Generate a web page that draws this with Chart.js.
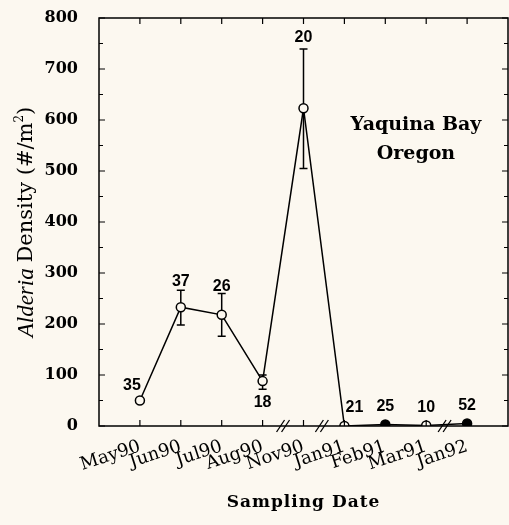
<!DOCTYPE html>
<html>
<head>
<meta charset="utf-8">
<script src="https://cdn.jsdelivr.net/npm/chart.js@4.4.1/dist/chart.umd.min.js"></script>
<style>
html,body{margin:0;padding:0;background:#fcf8f0;overflow:hidden}
#wrap{width:509px;height:525px}
canvas{display:block}
</style>
</head>
<body>
<div id="wrap"><canvas id="c"></canvas></div>
<script>
// sampling dates and mean density
const dates=['May90','Jun90','Jul90','Aug90','Nov90','Jan91','Feb91','Mar91','Jan92']
const density=[50,233,218,88,623,0,3,1,5]
const errUp=[54,266,260,100,739,null,null,null,null]
const errLo=[46,198,176,72,505,null,null,null,null]
const sampleN=[35,37,26,18,20,21,25,10,52]
const filled=[false,false,false,false,false,false,true,false,true]
const breaks=[3.5,4.45,7.45]
const yTicks=[0,100,200,300,400,500,600,700,800]
const site=['Yaquina Bay','Oregon']

const bg='#fcf8f0'
const serif='"DejaVu Serif", serif'

// where each n label sits relative to its point / error bar
const labelPos=[[-8,-15,'pt'],[0,-9,'up'],[0,-7,'up'],[0,21,'pt'],[0,-12,'up'],[10,-18,'pt'],[0,-18,'pt'],[0,-18,'pt'],[0,-18,'pt']]

const extras={
  id:'extras',
  beforeDatasetsDraw(chart){
    const c=chart.ctx,x=chart.scales.x,y=chart.scales.y
    c.save()
    c.strokeStyle='#000';c.lineWidth=1.5
    density.forEach((v,i)=>{
      if(errUp[i]==null)return
      const px=x.getPixelForValue(i),a=y.getPixelForValue(errUp[i]),b=y.getPixelForValue(errLo[i])
      c.beginPath()
      c.moveTo(px,a);c.lineTo(px,b)
      c.moveTo(px-4,a);c.lineTo(px+4,a)
      c.moveTo(px-4,b);c.lineTo(px+4,b)
      c.stroke()
    })
    c.restore()
  },
  afterDraw(chart){
    const c=chart.ctx,x=chart.scales.x,y=chart.scales.y,a=chart.chartArea
    c.save()
    c.strokeStyle='#000';c.lineWidth=1.5
    c.strokeRect(a.left,a.top,a.right-a.left,a.bottom-a.top)
    c.lineWidth=1.2
    // inward ticks
    for(let v=0;v<=800;v+=50){
      const py=y.getPixelForValue(v),len=v%100==0?6:4
      c.beginPath()
      c.moveTo(a.left,py);c.lineTo(a.left+len,py)
      c.moveTo(a.right,py);c.lineTo(a.right-len,py)
      c.stroke()
    }
    dates.forEach((d,i)=>{
      const px=x.getPixelForValue(i)
      c.beginPath()
      c.moveTo(px,a.top);c.lineTo(px,a.top+6)
      c.moveTo(px,a.bottom);c.lineTo(px,a.bottom-6)
      c.stroke()
    })
    // axis breaks
    c.lineWidth=1.3
    breaks.forEach(b=>{
      const px=x.getPixelForValue(b)
      ;[-2.5,2.5].forEach(o=>{
        c.beginPath()
        c.moveTo(px+o-4,a.bottom+6);c.lineTo(px+o+4,a.bottom-6)
        c.stroke()
      })
    })
    // sample sizes
    c.fillStyle='#000'
    c.font='bold 16px "Liberation Sans", Arial, sans-serif'
    c.textAlign='center';c.textBaseline='middle'
    sampleN.forEach((n,i)=>{
      const p=labelPos[i]
      const base=p[2]=='up'?errUp[i]:density[i]
      c.fillText(String(n),x.getPixelForValue(i)+p[0],y.getPixelForValue(base)+p[1])
    })
    // site label
    c.font='bold 19px '+serif
    c.fillText(site[0],x.getPixelForValue(6.75),y.getPixelForValue(590))
    c.fillText(site[1],x.getPixelForValue(6.75),y.getPixelForValue(533))
    // y title, genus in italics
    c.save()
    c.translate(27,(a.top+a.bottom)/2)
    c.rotate(-Math.PI/2)
    c.textAlign='left'
    const f1='italic 23px "Liberation Serif", serif',f2='21px '+serif,f3='12px '+serif
    const p1='Alderia ',p2='Density (#/m',p3='2',p4=')'
    c.font=f1;const w1=c.measureText(p1).width
    c.font=f2;const w2=c.measureText(p2).width,w4=c.measureText(p4).width
    c.font=f3;const w3=c.measureText(p3).width
    let sx=-(w1+w2+w3+w4)/2
    c.font=f1;c.fillText(p1,sx,0);sx+=w1
    c.font=f2;c.fillText(p2,sx,0);sx+=w2
    c.font=f3;c.fillText(p3,sx,-7);sx+=w3
    c.font=f2;c.fillText(p4,sx,0)
    c.restore()
    // x title
    c.font='bold 17px '+serif
    c.letterSpacing='1px'
    c.fillText('Sampling Date',(a.left+a.right)/2,503)
    c.restore()
  }
}

new Chart(document.getElementById('c'),{
  type:'line',
  data:{
    datasets:[{
      data:density.map((v,i)=>({x:i,y:v})),
      borderColor:'#000',
      borderWidth:1.5,
      tension:0,
      pointRadius:4.5,
      pointBorderWidth:1.5,
      pointBorderColor:'#000',
      pointBackgroundColor:filled.map(f=>f?'#000':bg)
    }]
  },
  options:{
    responsive:true,
    maintainAspectRatio:false,
    animation:false,
    layout:{autoPadding:false,padding:{top:18,right:1,left:0,bottom:0}},
    plugins:{legend:{display:false},tooltip:{enabled:false}},
    scales:{
      x:{
        type:'linear',min:-1,max:9,
        afterFit:s=>{s.height=99;s.paddingLeft=0;s.paddingRight=0},
        grid:{display:false,drawTicks:false},
        border:{display:false},
        afterBuildTicks:s=>{s.ticks=dates.map((d,i)=>({value:i}))},
        ticks:{
          color:'#000',
          font:{family:serif,size:18},
          padding:10,
          minRotation:18,maxRotation:18,
          autoSkip:false,
          callback:v=>dates[v]
        }
      },
      y:{
        min:0,max:800,
        afterFit:s=>{s.width=99;s.paddingTop=0;s.paddingBottom=0},
        grid:{display:false,drawTicks:false},
        border:{display:false},
        afterBuildTicks:s=>{s.ticks=yTicks.map(v=>({value:v}))},
        ticks:{
          color:'#000',
          font:{family:serif,size:16,weight:'bold'},
          padding:21
        }
      }
    }
  },
  plugins:[extras]
})
</script>
</body>
</html>
